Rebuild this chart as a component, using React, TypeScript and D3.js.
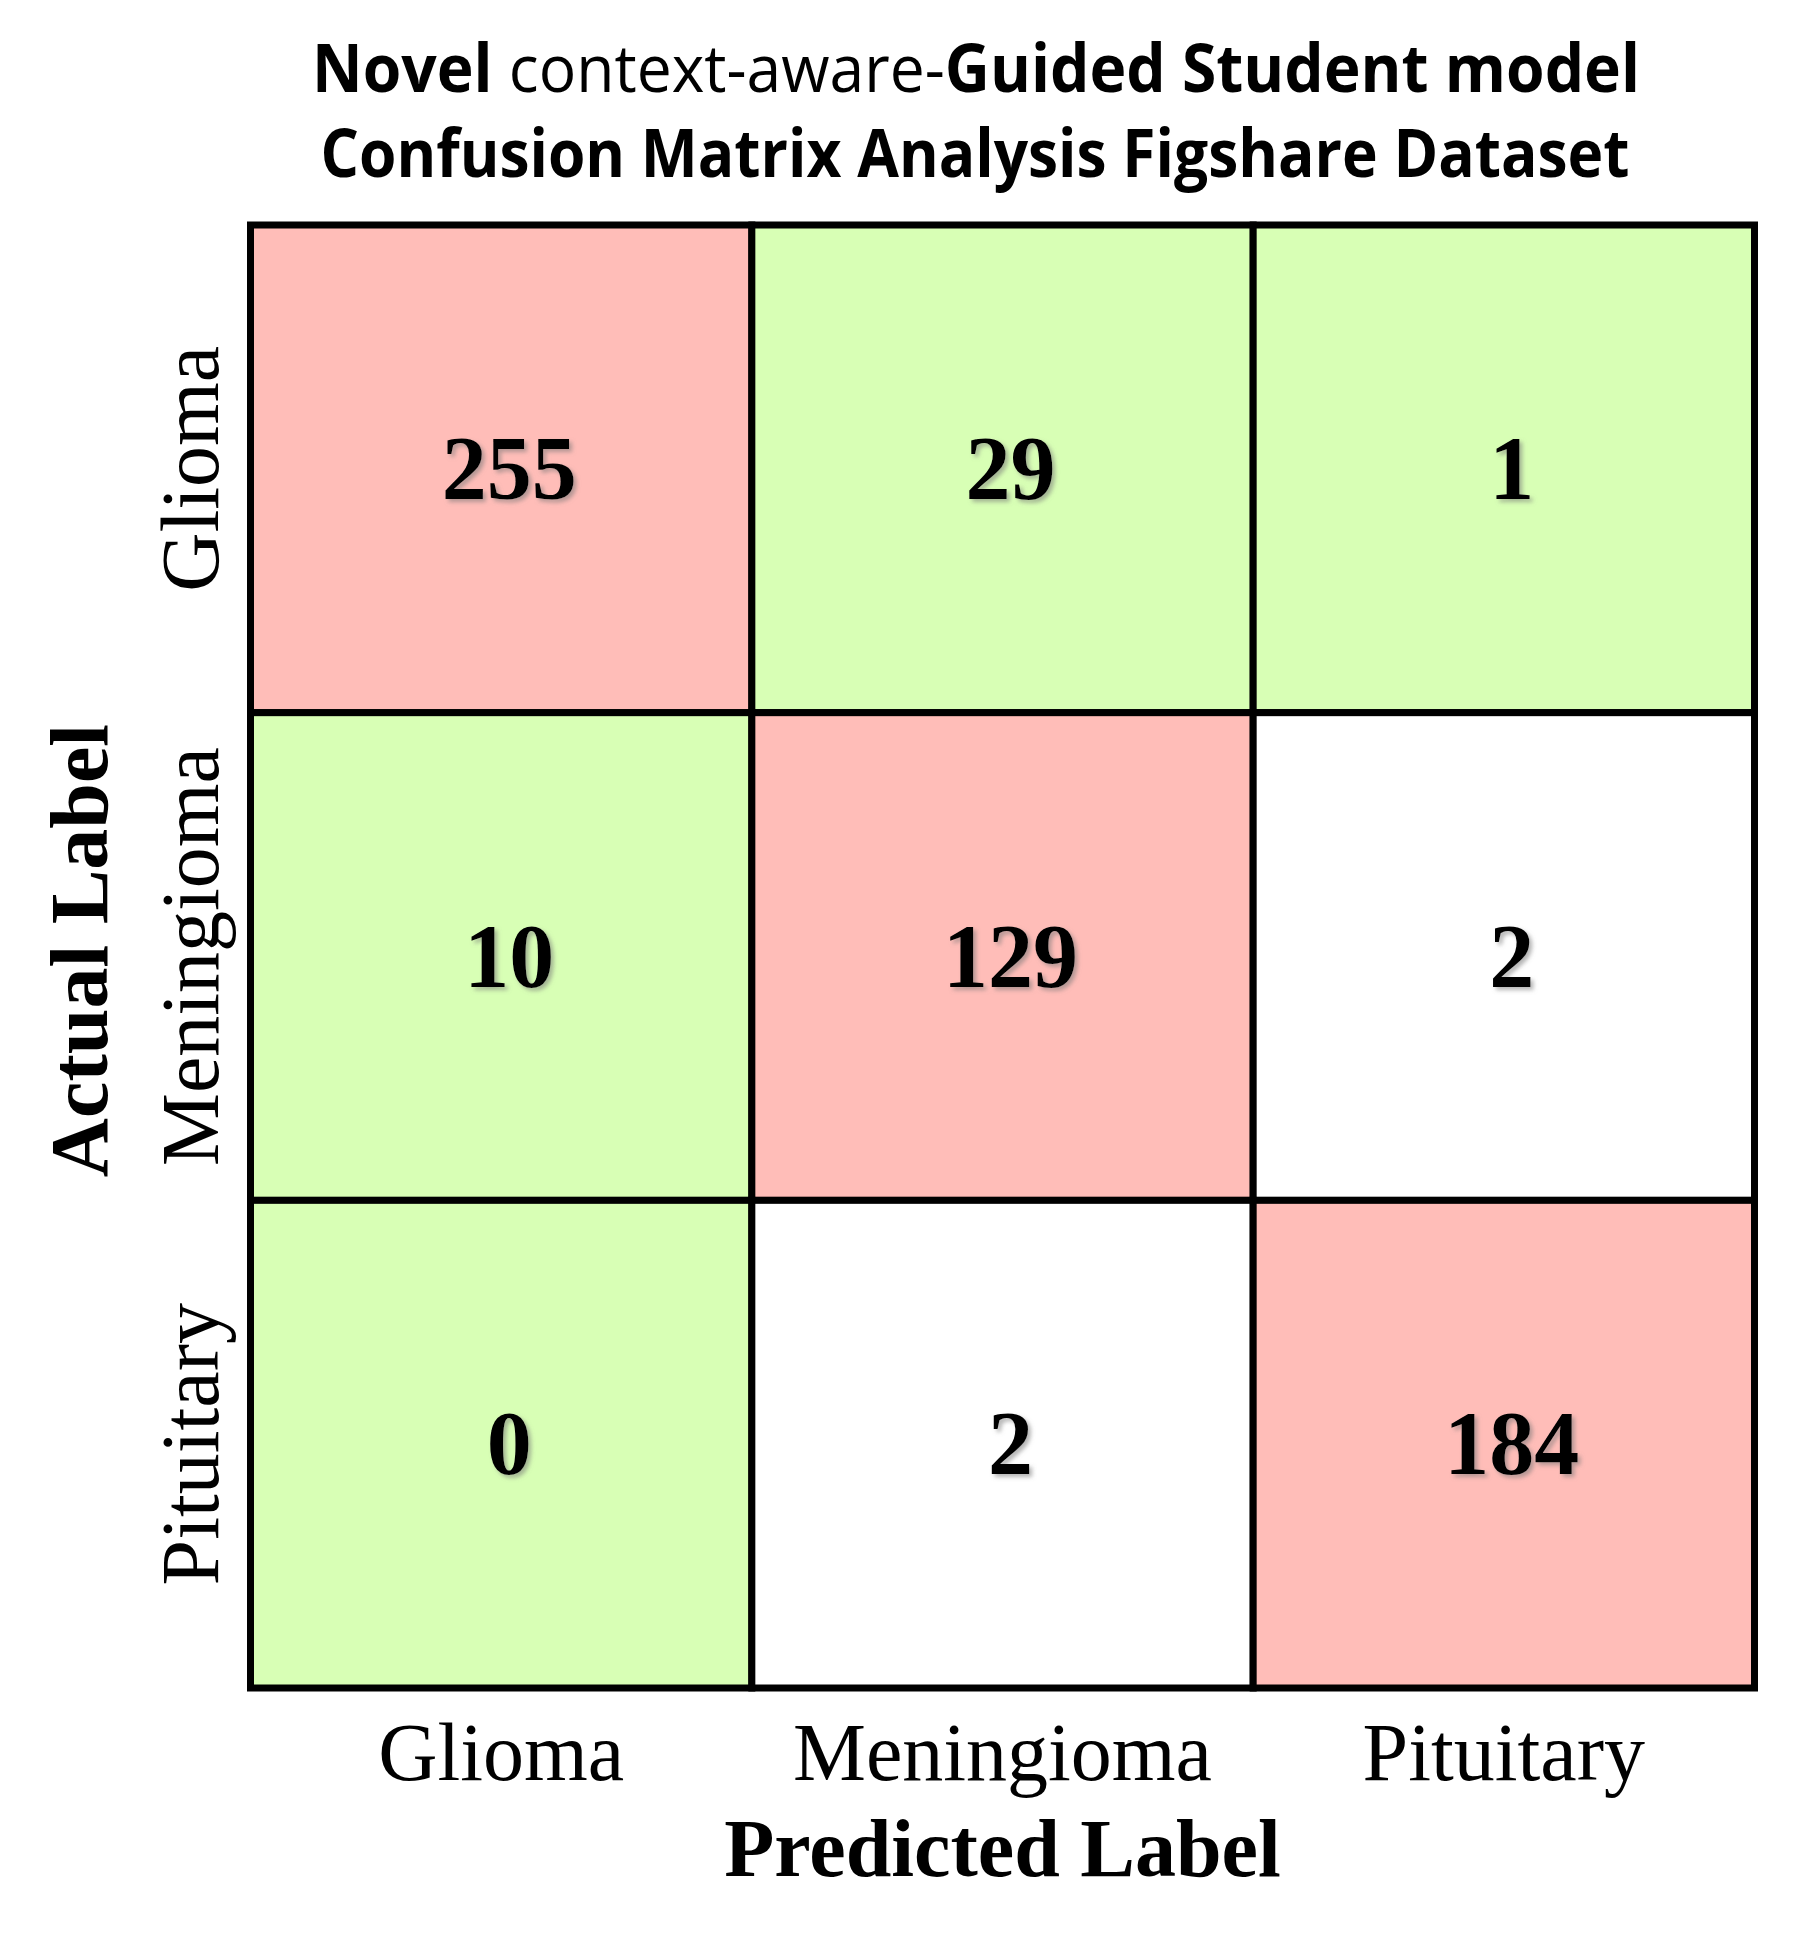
import React from "react";
import * as d3 from "d3";

const predictedLabels = ["Glioma", "Meningioma", "Pituitary"];
const actualLabels = ["Glioma", "Meningioma", "Pituitary"];
const matrixValues = [
  [255, 29, 1],
  [10, 129, 2],
  [0, 2, 184],
];
// cell highlight category: "diag" (pink), "off" (green), "none" (white)
const cellKinds = [
  ["diag", "off", "off"],
  ["off", "diag", "none"],
  ["off", "none", "diag"],
];
const titleLine1 = [
  { text: "Novel", bold: true },
  { text: " context-aware-", bold: false },
  { text: "Guided Student model", bold: true },
];
const titleLine2 = "Confusion Matrix Analysis Figshare Dataset";
const xAxisTitle = "Predicted Label";
const yAxisTitle = "Actual Label";

const W = 1808;
const H = 1946;
const kindColor: Record<string, string> = {
  diag: "#FFBDB8",
  off: "#D8FFB5",
  none: "#FFFFFF",
};

export default function App() {
  const x = d3.scaleBand<string>().domain(predictedLabels).range([250.5, 1754.5]).padding(0);
  const y = d3.scaleBand<string>().domain(actualLabels).range([225, 1688]).padding(0);
  const cells: { r: number; c: number; v: number; kind: string }[] = [];
  matrixValues.forEach((row, r) =>
    row.forEach((v, c) => cells.push({ r, c, v, kind: cellKinds[r][c] }))
  );
  const serif = "'Liberation Serif', 'Times New Roman', serif";
  const sans = "'Open Sans', 'Noto Sans', sans-serif";
  const gridCx = (250.5 + 1754.5) / 2;
  const gridCy = (225 + 1688) / 2;
  return (
    <svg
      width={W}
      height={H}
      viewBox={`0 0 ${W} ${H}`}
      style={{ position: "absolute", left: 0, top: 0, background: "#fff" }}
    >
      <defs>
        <filter id="shadow" x="-20%" y="-20%" width="150%" height="150%">
          <feDropShadow dx="3" dy="3" stdDeviation="2" floodColor="#777" floodOpacity="0.55" />
        </filter>
      </defs>
      <rect x={0} y={0} width={W} height={H} fill="#fff" />
      <text
        x={976}
        y={92}
        textAnchor="middle"
        fontFamily={sans}
        fontSize={66}
        textLength={1328}
        lengthAdjust="spacingAndGlyphs"
        fill="#000"
      >
        {titleLine1.map((t, i) => (
          <tspan key={i} fontWeight={t.bold ? 700 : 400}>
            {t.text}
          </tspan>
        ))}
      </text>
      <text
        x={975}
        y={177}
        textAnchor="middle"
        fontFamily={sans}
        fontSize={66}
        fontWeight={700}
        textLength={1309}
        lengthAdjust="spacingAndGlyphs"
        fill="#000"
      >
        {titleLine2}
      </text>
      {cells.map((d) => (
        <rect
          key={`r${d.r}-${d.c}`}
          x={x(predictedLabels[d.c])}
          y={y(actualLabels[d.r])}
          width={x.bandwidth()}
          height={y.bandwidth()}
          fill={kindColor[d.kind]}
          stroke="#000"
          strokeWidth={7}
        />
      ))}
      {cells.map((d) => (
        <text
          key={`t${d.r}-${d.c}`}
          x={(x(predictedLabels[d.c]) as number) + x.bandwidth() / 2 + 8}
          y={(y(actualLabels[d.r]) as number) + y.bandwidth() / 2 + 30}
          textAnchor="middle"
          fontFamily={serif}
          fontWeight={700}
          fontSize={90}
          fill="#000"
          filter="url(#shadow)"
        >
          {d.v}
        </text>
      ))}
      {predictedLabels.map((l) => (
        <text
          key={`x${l}`}
          x={(x(l) as number) + x.bandwidth() / 2}
          y={1780}
          textAnchor="middle"
          fontFamily={serif}
          fontSize={82}
          fill="#000"
        >
          {l}
        </text>
      ))}
      {actualLabels.map((l) => {
        const cy = (y(l) as number) + y.bandwidth() / 2;
        return (
          <text
            key={`y${l}`}
            transform={`translate(218,${cy}) rotate(-90)`}
            textAnchor="middle"
            fontFamily={serif}
            fontSize={82}
            fill="#000"
          >
            {l}
          </text>
        );
      })}
      <text
        x={gridCx}
        y={1876}
        textAnchor="middle"
        fontFamily={serif}
        fontWeight={700}
        fontSize={82}
        fill="#000"
      >
        {xAxisTitle}
      </text>
      <text
        transform={`translate(107,${gridCy - 6}) rotate(-90)`}
        textAnchor="middle"
        fontFamily={serif}
        fontWeight={700}
        fontSize={82}
        fill="#000"
      >
        {yAxisTitle}
      </text>
    </svg>
  );
}
